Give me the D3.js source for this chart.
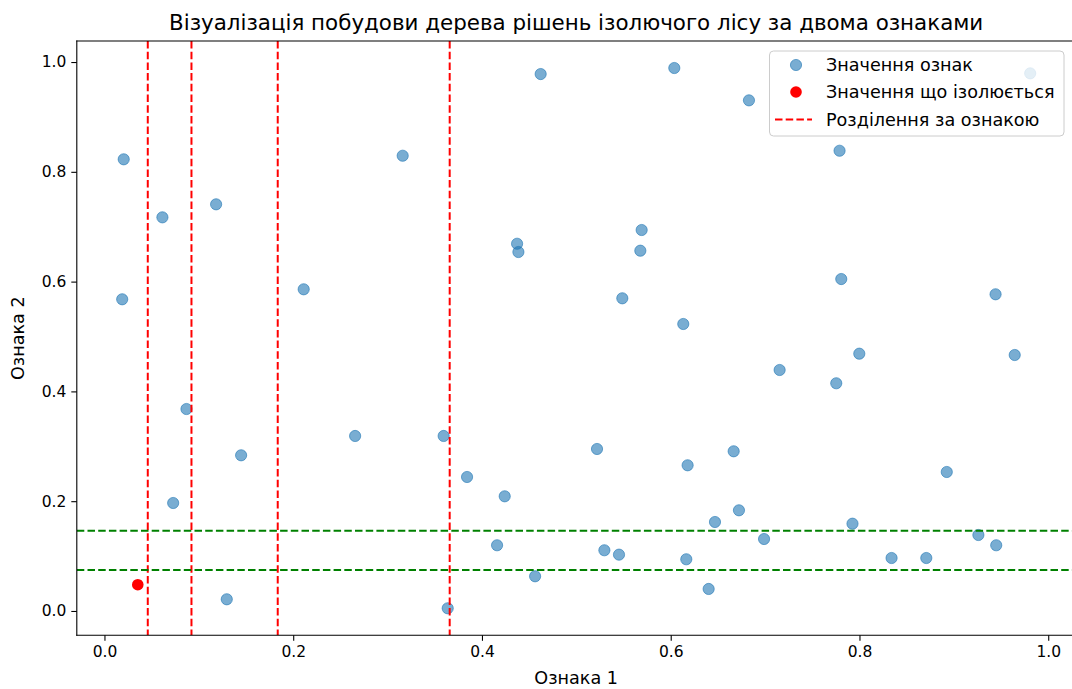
<!DOCTYPE html>
<html>
<head>
<meta charset="utf-8">
<script src="https://cdn.jsdelivr.net/npm/d3@7"></script>
<style>
  html, body { margin: 0; padding: 0; background: #fff; overflow: hidden; }
  svg { display: block; font-family: "DejaVu Sans", sans-serif; }
</style>
</head>
<body>
<svg id="chart" width="1072" height="689"></svg>
<script>
// Feature values of the sample (feature 1, feature 2)
const featureX = [
  0.0204, 0.0188, 0.0614, 0.1183, 0.2111, 0.3160, 0.0869, 0.1448, 0.2656, 0.3594,
  0.3842, 0.0728, 0.1296, 0.3637, 0.4622, 0.6038, 0.6829, 0.4372, 0.4386, 0.5692,
  0.5678, 0.5487, 0.6133, 0.5219, 0.6179, 0.6667, 0.4241, 0.4160, 0.4563, 0.5297,
  0.5452, 0.6165, 0.6402, 0.6469, 0.6723, 0.6989, 0.7789, 0.7807, 0.9442, 0.7998,
  0.7154, 0.7754, 0.9645, 0.8925, 0.7926, 0.9260, 0.9449, 0.8340, 0.8708, 0.9809
];
const featureY = [
  0.8228, 0.5678, 0.7171, 0.7408, 0.5860, 0.8293, 0.3679, 0.2836, 0.3188, 0.3188,
  0.2441, 0.1967, 0.0213, 0.0049, 0.9781, 0.9891, 0.9302, 0.6690, 0.6539, 0.6940,
  0.6563, 0.5696, 0.5228, 0.2951, 0.2654, 0.2909, 0.2089, 0.1197, 0.0632, 0.1106,
  0.1026, 0.0942, 0.0401, 0.1621, 0.1834, 0.1311, 0.8384, 0.6047, 0.5769, 0.4687,
  0.4390, 0.4148, 0.4663, 0.2532, 0.1590, 0.1384, 0.1197, 0.0965, 0.0965, 0.9794
];
// The point being isolated
const isolatedPoint = [0.0353, 0.0479];
// Split thresholds of the tree
const splitsFeature1 = [0.0459, 0.0922, 0.1836, 0.3658];
const splitsFeature2 = [0.1463, 0.0747];
const xTicks = [0.0, 0.2, 0.4, 0.6, 0.8, 1.0];
const yTicks = [0.0, 0.2, 0.4, 0.6, 0.8, 1.0];
const legendLabels = ["Значення ознак", "Значення що ізолюється", "Розділення за ознакою"];
const titleText = "Візуалізація побудови дерева рішень ізолючого лісу за двома ознаками";
const xLabel = "Ознака 1";
const yLabel = "Ознака 2";

const svg = d3.select("#chart");
const plot = { left: 76.8, right: 1075.6, top: 41, bottom: 635.3 };

// Axis limits with a 5% margin around the data, as autoscaling would give
function padded(vals) {
  const [lo, hi] = d3.extent(vals);
  const m = (hi - lo) * 0.05;
  return [lo - m, hi + m];
}
const x = d3.scaleLinear().domain(padded(featureX.concat([isolatedPoint[0]])))
  .range([plot.left, plot.right]);
const y = d3.scaleLinear().domain(padded(featureY.concat([isolatedPoint[1]])))
  .range([plot.bottom, plot.top]);

svg.append("defs").append("clipPath").attr("id", "plotclip")
  .append("rect")
  .attr("x", plot.left).attr("y", plot.top)
  .attr("width", plot.right - plot.left).attr("height", plot.bottom - plot.top);

const inner = svg.append("g").attr("clip-path", "url(#plotclip)");

// Sample points
const pts = featureX.map((v, i) => [v, featureY[i]]);
inner.append("g").selectAll("circle").data(pts).join("circle")
  .attr("cx", d => x(d[0])).attr("cy", d => y(d[1])).attr("r", 5.6)
  .attr("fill", "#1f77b4").attr("fill-opacity", 0.6)
  .attr("stroke", "#1f77b4").attr("stroke-opacity", 0.6).attr("stroke-width", 1);

// Isolated point
inner.append("circle")
  .attr("cx", x(isolatedPoint[0])).attr("cy", y(isolatedPoint[1])).attr("r", 5.8)
  .attr("fill", "#ff0000");

// Vertical splits on feature 1
inner.append("g").selectAll("line").data(splitsFeature1).join("line")
  .attr("x1", d => x(d)).attr("x2", d => x(d))
  .attr("y1", plot.top).attr("y2", plot.bottom)
  .attr("stroke", "#ff0000").attr("stroke-width", 2)
  .attr("stroke-dasharray", "7.5,3.2");

// Horizontal splits on feature 2
inner.append("g").selectAll("line").data(splitsFeature2).join("line")
  .attr("y1", d => y(d)).attr("y2", d => y(d))
  .attr("x1", plot.left).attr("x2", plot.right)
  .attr("stroke", "#008000").attr("stroke-width", 2)
  .attr("stroke-dasharray", "7.5,3.2");

// Axes
const xAxis = d3.axisBottom(x).tickValues(xTicks).tickFormat(d3.format(".1f"))
  .tickSizeOuter(0).tickSize(5.5).tickPadding(5);
const yAxis = d3.axisLeft(y).tickValues(yTicks).tickFormat(d3.format(".1f"))
  .tickSizeOuter(0).tickSize(5.5).tickPadding(5);

const gx = svg.append("g").attr("transform", `translate(0,${plot.bottom})`).call(xAxis);
const gy = svg.append("g").attr("transform", `translate(${plot.left},0)`).call(yAxis);
[gx, gy].forEach(g => {
  g.select(".domain").remove();
  g.selectAll(".tick line").attr("stroke", "#000").attr("stroke-width", 1.1);
  g.selectAll(".tick text").attr("fill", "#000").style("font-size", "15.5px")
    .style("font-family", "DejaVu Sans, sans-serif");
});

// Spines
const spines = [
  [plot.left, plot.top, plot.right, plot.top],
  [plot.left, plot.bottom, plot.right, plot.bottom],
  [plot.left, plot.top, plot.left, plot.bottom],
  [plot.right, plot.top, plot.right, plot.bottom]
];
svg.append("g").selectAll("line").data(spines).join("line")
  .attr("x1", d => d[0]).attr("y1", d => d[1]).attr("x2", d => d[2]).attr("y2", d => d[3])
  .attr("stroke", "#000").attr("stroke-width", 1.1).attr("stroke-linecap", "square");

// Title and axis labels
svg.append("text").attr("x", (plot.left + plot.right) / 2).attr("y", 30)
  .attr("text-anchor", "middle").style("font-size", "21.4px").text(titleText);
svg.append("text").attr("x", (plot.left + plot.right) / 2).attr("y", 684)
  .attr("text-anchor", "middle").style("font-size", "17.6px").text(xLabel);
svg.append("text")
  .attr("transform", `translate(24,${(plot.top + plot.bottom) / 2}) rotate(-90)`)
  .attr("text-anchor", "middle").style("font-size", "17.6px").text(yLabel);

// Legend
const lg = svg.append("g");
lg.append("rect").attr("x", 769.5).attr("y", 51).attr("width", 294.5).attr("height", 85)
  .attr("rx", 4).attr("fill", "#fff").attr("fill-opacity", 0.8)
  .attr("stroke", "#cccccc").attr("stroke-width", 1);
const rowY = [65, 92, 119.5];
lg.append("circle").attr("cx", 796).attr("cy", rowY[0]).attr("r", 5.6)
  .attr("fill", "#1f77b4").attr("fill-opacity", 0.6)
  .attr("stroke", "#1f77b4").attr("stroke-opacity", 0.6);
lg.append("circle").attr("cx", 796).attr("cy", rowY[1]).attr("r", 5.8).attr("fill", "#ff0000");
lg.append("line").attr("x1", 775).attr("x2", 812).attr("y1", rowY[2]).attr("y2", rowY[2])
  .attr("stroke", "#ff0000").attr("stroke-width", 2).attr("stroke-dasharray", "7.5,3.2");
lg.selectAll("text.lab").data(legendLabels).join("text").attr("class", "lab")
  .attr("x", 826).attr("y", (d, i) => rowY[i]).attr("dy", "0.36em")
  .style("font-size", "17.6px").attr("fill", "#000").text(d => d);
</script>
</body>
</html>
